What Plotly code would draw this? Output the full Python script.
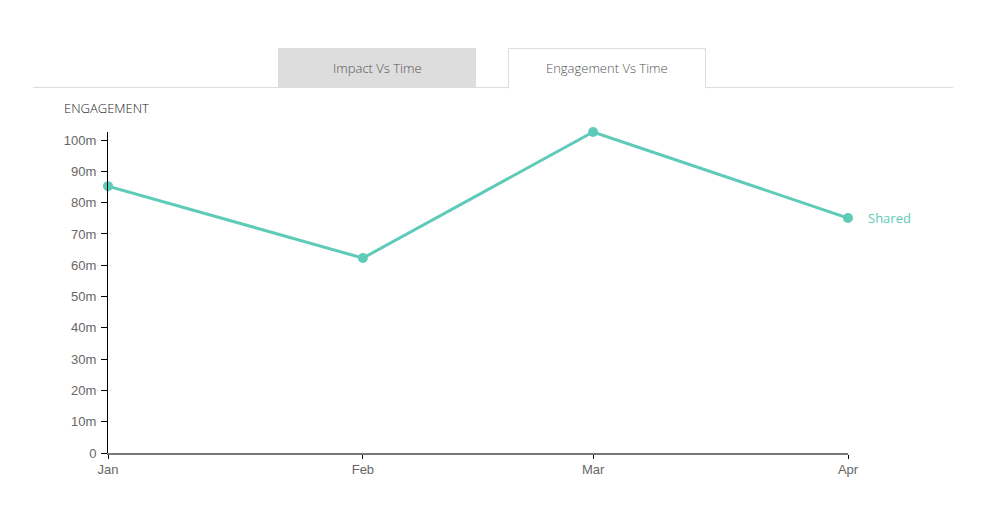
import plotly.graph_objects as go

months = ["2017-01-01", "2017-02-01", "2017-03-01", "2017-04-01"]
month_labels = ["Jan", "Feb", "Mar", "Apr"]
shared = [85.3e6, 62.3e6, 102.6e6, 75.1e6]
series_name = "Shared"
y_tickvals = [0, 10e6, 20e6, 30e6, 40e6, 50e6, 60e6, 70e6, 80e6, 90e6, 100e6]
y_ticktext = ["0", "10m", "20m", "30m", "40m", "50m", "60m", "70m", "80m", "90m", "100m"]
tabs = ["Impact Vs Time", "Engagement Vs Time"]
y_title = "ENGAGEMENT"

OFF = 8  # page body margin
W, H = 987, 512
# plot area in page pixels: x 108..848, y 132..453
L, T = 108 - OFF, 132 - OFF
R = W + OFF - 848
B = H + OFF - 453
PW, PH = 848 - 108, 453 - 132
TEAL = "#5ecbb8"


def px(x):
    return (x - 108) / PW


def py(y):
    return (453 - y) / PH


fig = go.Figure()
fig.add_trace(go.Scatter(
    x=months, y=shared, mode="lines+markers", name=series_name,
    line=dict(color=TEAL, width=3),
    marker=dict(color=TEAL, size=10),
    cliponaxis=False, hoverinfo="x+y",
))

shapes = [
    dict(type="line", xref="paper", yref="paper", x0=px(33), x1=px(953), y0=py(87.5), y1=py(87.5),
         line=dict(color="#dddddd", width=1)),
    dict(type="rect", xref="paper", yref="paper", x0=px(278), x1=px(476), y0=py(88), y1=py(48),
         fillcolor="#dddddd", line=dict(width=0)),
    dict(type="path", xref="paper", yref="paper",
         path=f"M {px(508.5)},{py(88.5)} L {px(508.5)},{py(48.5)} L {px(705.5)},{py(48.5)} L {px(705.5)},{py(88.5)}",
         fillcolor="#ffffff", line=dict(color="#dddddd", width=1)),
]

annotations = [
    dict(text=tabs[0], xref="paper", yref="paper", x=px(377), y=py(68), showarrow=False,
         font=dict(family="Open Sans", size=13, color="#555555", weight=300), xanchor="center", yanchor="middle"),
    dict(text=tabs[1], xref="paper", yref="paper", x=px(607), y=py(68), showarrow=False,
         font=dict(family="Open Sans", size=13, color="#555555", weight=300), xanchor="center", yanchor="middle"),
    dict(text=y_title, xref="paper", yref="paper", x=px(62), y=py(108), showarrow=False,
         font=dict(family="Open Sans", size=13, color="#222222", weight=300), xanchor="left", yanchor="middle"),
    dict(text=series_name, x=months[-1], y=shared[-1], showarrow=False, xanchor="left", yanchor="middle",
         xshift=18, font=dict(family="Open Sans", size=13, color=TEAL)),
]

fig.update_layout(
    width=W, height=H,
    margin=dict(l=L, r=R, t=T, b=B),
    paper_bgcolor="white", plot_bgcolor="white",
    showlegend=False,
    shapes=shapes, annotations=annotations,
    font=dict(family="Liberation Sans, Arial", size=13, color="#666666"),
    xaxis=dict(
        type="date", range=[months[0], months[-1]],
        tickvals=months, ticktext=month_labels,
        showgrid=False, zeroline=False,
        showline=True, linecolor="#777777", linewidth=1.5,
        ticks="outside", ticklen=4, tickcolor="#000000", tickwidth=1,
        tickfont=dict(size=13, color="#666666"),
    ),
    yaxis=dict(
        range=[0, 102.6e6],
        tickvals=y_tickvals, ticktext=y_ticktext,
        showgrid=False, zeroline=False,
        showline=True, linecolor="#000000", linewidth=1,
        ticks="outside", ticklen=6, tickcolor="#000000", tickwidth=1,
        ticklabelstandoff=2,
        tickfont=dict(size=13, color="#666666"),
    ),
)

fig.write_html("out.html")
